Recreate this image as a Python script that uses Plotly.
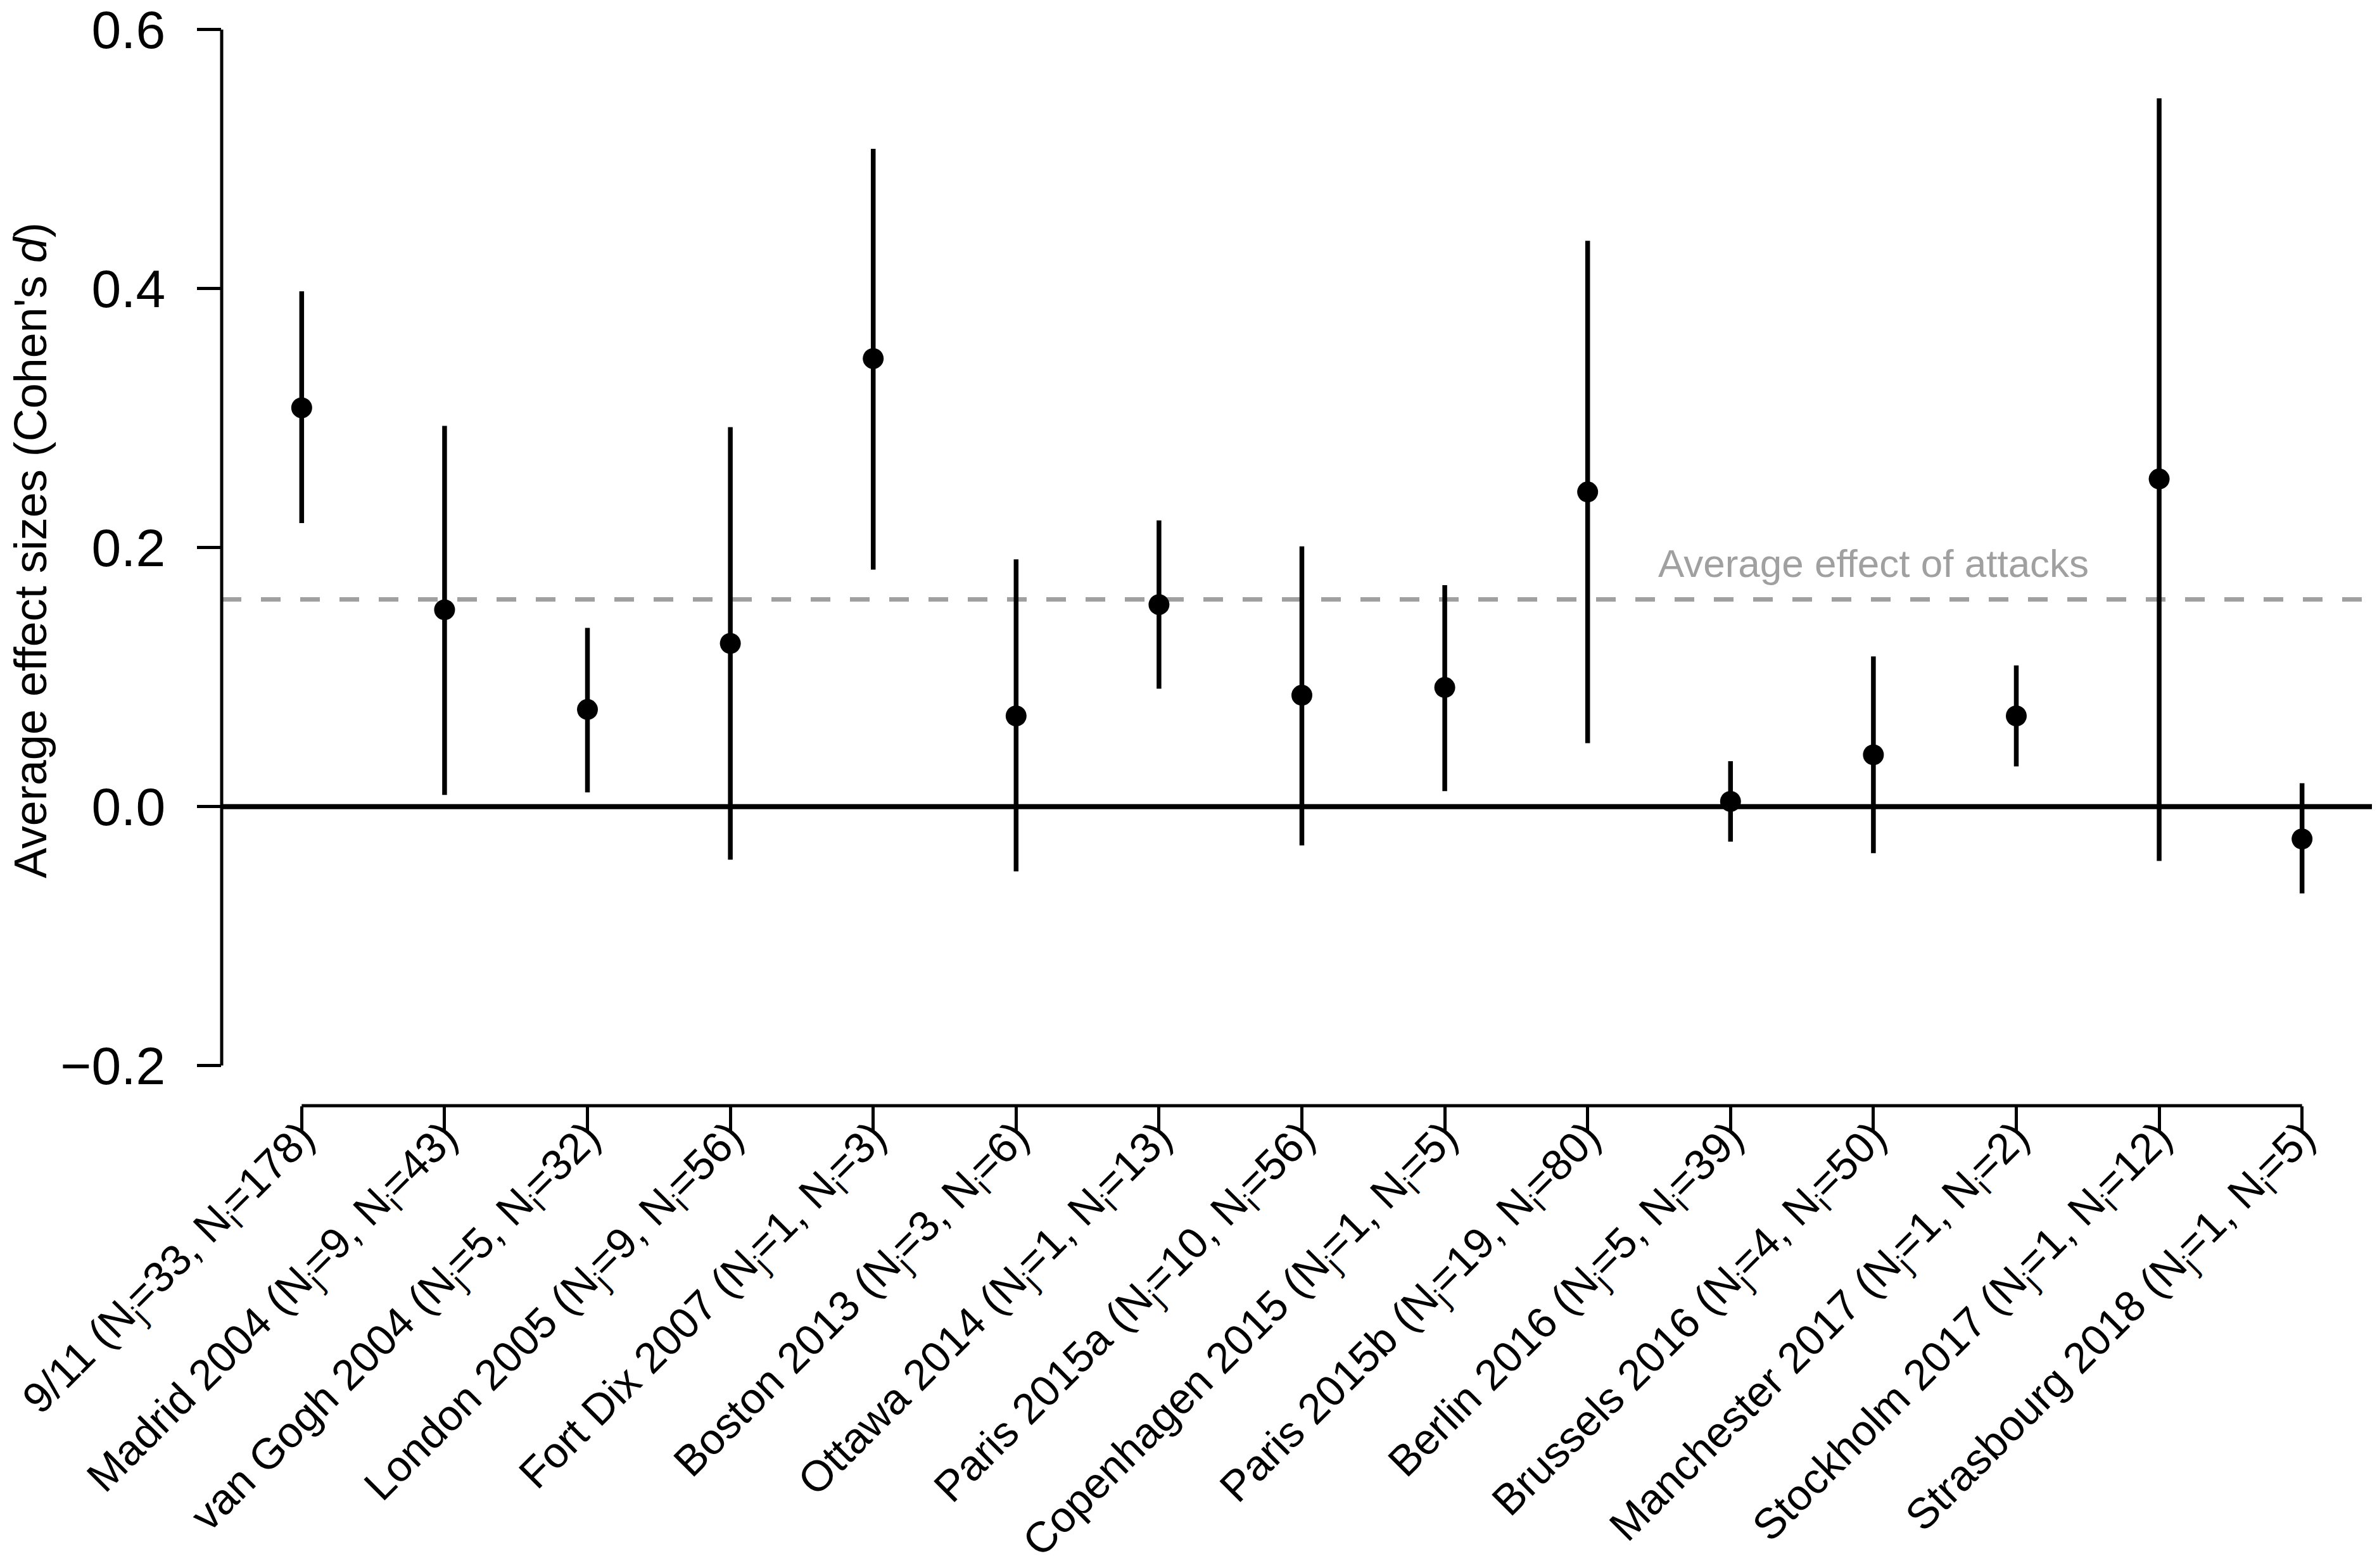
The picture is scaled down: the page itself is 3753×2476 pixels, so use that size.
import plotly.graph_objects as go

events = ["9/11", "Madrid 2004", "van Gogh 2004", "London 2005", "Fort Dix 2007",
          "Boston 2013", "Ottawa 2014", "Paris 2015a", "Copenhagen 2015", "Paris 2015b",
          "Berlin 2016", "Brussels 2016", "Manchester 2017", "Stockholm 2017", "Strasbourg 2018"]
n_j = [33, 9, 5, 9, 1, 3, 1, 10, 1, 19, 5, 4, 1, 1, 1]
n_i = [178, 43, 32, 56, 3, 6, 13, 56, 5, 80, 39, 50, 2, 12, 5]
effect = [0.308, 0.152, 0.075, 0.126, 0.346, 0.070, 0.156, 0.086, 0.092, 0.243,
          0.004, 0.040, 0.070, 0.253, -0.025]
lower = [0.219, 0.009, 0.011, -0.041, 0.183, -0.050, 0.091, -0.030, 0.012, 0.049,
         -0.027, -0.036, 0.031, -0.042, -0.067]
upper = [0.398, 0.294, 0.138, 0.293, 0.508, 0.191, 0.221, 0.201, 0.171, 0.437,
         0.035, 0.116, 0.109, 0.547, 0.018]
avg_effect = 0.16
y_ticks = [-0.2, 0.0, 0.2, 0.4, 0.6]
y_tick_labels = ["\u22120.2", "0.0", "0.2", "0.4", "0.6"]

x = list(range(1, len(events) + 1))
labels = [f"{e} (N<sub>j</sub>=%d, N<sub>i</sub>=%d)" % (a, b) for e, a, b in zip(events, n_j, n_i)]

FONT = "Liberation Sans, Arial, Helvetica, sans-serif"
GREY = "#A0A0A0"

fig = go.Figure()
fig.add_trace(go.Scatter(
    x=x, y=effect, mode="markers",
    marker=dict(size=33, color="black"),
    error_y=dict(type="data", symmetric=False,
                 array=[u - e for u, e in zip(upper, effect)],
                 arrayminus=[e - l for e, l in zip(effect, lower)],
                 width=0, thickness=7.5, color="black"),
    showlegend=False,
))

# reference lines
fig.add_shape(type="line", xref="paper", yref="y", x0=0, x1=1, y0=avg_effect, y1=avg_effect,
              line=dict(color=GREY, width=7, dash="31px,31px"), layer="below")
fig.add_shape(type="line", xref="paper", yref="y", x0=0, x1=1, y0=0, y1=0,
              line=dict(color="black", width=8), layer="below")
# R-style axis lines (only spanning tick range)
fig.add_shape(type="line", xref="paper", yref="y", x0=0, x1=0, y0=y_ticks[0], y1=y_ticks[-1],
              line=dict(color="black", width=5))
fig.add_shape(type="line", xref="x", yref="paper", x0=x[0], x1=x[-1], y0=0, y1=0,
              line=dict(color="black", width=5))

fig.add_annotation(x=12, y=0.188, xref="x", yref="y", text="Average effect of attacks",
                   showarrow=False, xanchor="center", yanchor="middle",
                   font=dict(family=FONT, size=62, color=GREY))
fig.add_annotation(x=-0.0885, y=0.198, xref="paper", yref="y",
                   text="Average effect sizes (Cohen's <i>d</i>)",
                   textangle=-90, showarrow=False, xanchor="center", yanchor="middle",
                   font=dict(family=FONT, size=72, color="black"))

fig.update_layout(
    width=3753, height=2476,
    margin=dict(l=342, r=0, t=0, b=738, autoexpand=False),
    paper_bgcolor="white", plot_bgcolor="white",
    font=dict(family=FONT, color="black"),
    xaxis=dict(range=[0.44, 15.56], tickmode="array", tickvals=x, ticktext=labels,
               tickangle=-45, ticks="outside", ticklen=39, tickwidth=5, tickcolor="black",
               showline=False, showgrid=False, zeroline=False, automargin=False,
               ticklabeloverflow="allow", ticklabelstandoff=-58, ticklabelshift=0,
               tickfont=dict(family=FONT, size=68, color="black")),
    yaxis=dict(range=[-0.231, 0.619], tickmode="array", tickvals=y_ticks, ticktext=y_tick_labels,
               ticks="outside", ticklen=38, tickwidth=5, tickcolor="black",
               showline=False, showgrid=False, zeroline=False, automargin=False,
               ticklabeloverflow="allow", ticklabelstandoff=33,
               tickfont=dict(family=FONT, size=84, color="black")),
)

fig.write_html("out.html")
